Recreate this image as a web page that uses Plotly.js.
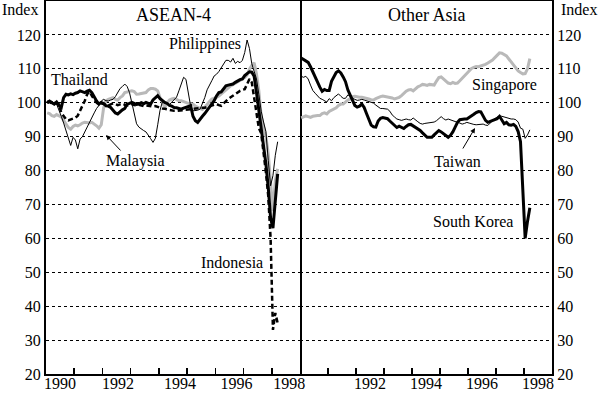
<!DOCTYPE html>
<html>
<head>
<meta charset="utf-8">
<script src="https://cdn.plot.ly/plotly-3.0.1.min.js"></script>
<style>
html,body{margin:0;padding:0;background:#fff;}
#chart{width:600px;height:393px;}
</style>
</head>
<body>
<div id="chart"></div>
<script>
// Monthly indices, Jan 1990 onward
const startYear = 1990;
const yearTicks = [1991, 1992, 1993, 1994, 1995, 1996, 1997, 1998];
const leftLabels = ['1990', '1992', '1994', '1996', '1998'];
const leftLabelPos = [1990.5, 1992.55, 1994.75, 1996.75, 1998.62];
const rightLabels = ['1992', '1994', '1996', '1998'];
const rightLabelPos = [1992.5, 1994.5, 1996.5, 1998.5];
const yTicks = [20, 30, 40, 50, 60, 70, 80, 90, 100, 110, 120];

const thailand = [100,100.5,100,99.6,100.2,99.2,98.6,101.5,102.5,102.3,
  102.6,102.4,102.8,103,103.5,103.3,103,103.4,103.7,103,
  101.5,100.5,99.6,100.1,99.8,99.1,99,98.6,97.8,97,
  96.7,97.4,97.9,98.3,99.6,99.8,100.1,99.8,99.5,99.6,
  100,99.7,100.1,99.8,99.6,100.8,101.6,102.1,101.2,100.6,
  100.1,99.8,99.2,99,98.6,98.5,98.2,98.1,98.4,98.6,
  98.8,99.1,96,94.7,94.2,95.2,96,96.8,97.8,98.6,
  99.5,100.6,102,103,103.2,104,105,105.2,105.3,105.5,
  106,106.5,106.8,107,108,108.6,109.1,109,107.8,103,
  97.5,93,88,82,75,66,63,72,79];

const indonesia = [100,100.3,99.8,100,99.8,99.5,97,96,95.2,94.8,
  95,95.2,95.6,96.2,97.6,99,100.6,102.5,103.3,102,
  101,100,99.5,99.8,99.6,99.4,99.2,99.5,99.8,99.6,
  99.3,99.5,99.7,99.4,99.2,99.5,99.6,99.3,99.2,99.4,
  99.3,99,99.2,99.1,98.8,98.9,99,98.7,98.5,98.3,
  98.2,98,97.8,97.7,97.6,97.6,97.7,97.6,97.7,97.8,
  98,98.1,98.3,98.4,98.3,98.5,98.5,98.5,98.7,98.9,
  99,99.2,99.6,99.3,99.1,99.8,100.6,101.1,101.6,102.1,
  102.6,103,103.5,103.8,104,105.5,107,106,101.5,96,
  92.5,91,85.5,79.5,72.5,60,33,38,35];

const philippines = [100.6,100,100.5,99.8,99.6,98,96,94,92,89.8,
  87.4,89.8,89,86.4,89.3,90,91.5,93,94.5,96,
  97,98.3,99.2,100.5,101,100.6,100.5,100.8,101,101.8,
  103.2,104.2,104.8,105.5,104.8,103,100,97,93.8,92.8,
  92.2,91.8,91.4,90.5,89.4,88.3,89.5,93.5,97.8,100.3,
  100,99.6,99.4,100.2,100.9,101.6,103.5,105.8,107.5,106.9,
  103.5,99,97.6,97.6,97.8,98.1,99.8,101.5,103.8,105,
  106.5,107.9,108.4,109.2,110.3,111.4,112.5,112.5,112,113.1,
  111.6,112.2,111.8,112.5,114.8,118.5,116,111.5,109.5,107,
  102.5,97.5,94.3,91.5,83,75.5,78.5,84.5,88.5];

const malaysia = [97,96.8,96.2,96,96.5,96.2,95.8,94.8,93.7,92.7,
  92.2,93,93.4,93.2,93.5,94,94.2,94,94,94.2,
  93.8,93.2,92.5,93.5,98.5,100.6,101,101.3,101.5,101,
  100.8,101.5,102,103,103.2,103.3,103.5,103.3,102.5,102.6,
  102.7,103,103,103.8,104.2,104.2,104,103.5,101.5,100.2,
  98.6,100,100.8,101.1,101.3,101,100.6,100.6,100.3,100.1,
  99.8,99.7,99.6,99,98.6,98.2,98,98.6,99.6,100.4,
  101.1,101.3,101.6,102,102.6,103.3,104,104.5,105,105.3,
  105.7,106,106.4,107,107.4,108.2,109.9,111,111.8,108.5,
  103.5,96,93,90,85,77,68,77,80.5];

const southKorea = [113.2,112.8,112.3,111.9,110.6,109,107.4,106,104.6,103.4,
  103.9,103.6,103.6,106.3,107.8,108.9,109.4,108.8,107.6,106.2,
  103.8,102.2,100.6,99.2,98.7,99,99.6,98.6,96.8,94.8,
  93.4,92.9,92.8,94.6,95.4,95.6,95.5,95.3,94.6,94,
  93.2,92.7,93.1,92.8,92.4,93,93.5,93.6,93.2,92.6,
  92.2,91.8,91.1,90.3,89.8,89.8,89.8,90.5,91.3,91.8,
  91.4,90.8,90.2,89.8,90.4,91.4,92.8,94.2,95,95.2,
  95.2,95.2,95.6,96.2,96.6,97.1,97.4,97.3,96.2,94.8,
  94.2,94.5,94.8,95,95.3,96,95,93.8,94.2,93.5,
  93.4,93.6,93,91.5,88.5,72,60,65,69];

const taiwan = [107.8,107.5,107.8,107,105.2,103.6,102.8,101.9,101.3,101,
  100.5,100.2,101.2,100.6,101.5,102.2,102.6,101.9,101.3,101.3,
  102.3,102,101.3,101,100.7,100.8,101,100.8,100.6,100.5,
  100.2,99.9,99.3,98.7,98.3,98.3,98.3,98.1,97.5,96.4,
  95.8,95.2,95,94.8,95,95.2,95,94.9,95.5,94.8,
  94.4,93.9,93.7,93.9,94,94,94,94.3,94.7,95.2,
  95.9,95.3,94.9,95.2,94.9,94.6,94.3,94.2,94,93.7,
  93.9,94.2,94,93.7,93.6,93.5,93.6,93.7,93.7,93.4,
  93.3,94,94.8,95.3,95.7,96.1,96,95.8,95.5,95.2,
  95.2,95.2,95,94.3,92.5,92.2,89.5,90.5,92];

const singapore = [95.5,95.9,96.1,95.9,95.7,96,96.2,96.2,96.2,96.8,
  97,96.7,97.4,97.8,98.2,98.5,99.2,99.6,99.6,100.3,
  100.8,101.1,101.8,101.9,101.7,101.6,101.6,101.5,101.3,101.1,
  100.9,100.8,101.2,101.6,101.8,102,101.9,101.7,101.6,101.4,
  101.1,101.3,101.6,102.1,102.8,103.4,103.8,103.9,103.5,104.1,
  104.7,105,105.4,105.3,105.1,105.4,105.4,105.2,106.4,107.4,
  107.6,107,106.2,105.8,105.6,106,105.7,105.8,106.5,107.2,
  107.8,108.5,109.5,110.1,110.4,110.7,110.6,110.8,111,111.3,
  111.7,112.1,112.6,113.3,114,114.7,114.6,114.2,113.8,112.9,
  112,111.3,110.3,109.4,108.9,108.5,108.6,110,113];

// monthly time positions (mid-month)
function months(n) { const a = []; for (let k = 0; k < n; k++) a.push(startYear + (k + 0.5) / 12); return a; }

const FONT = 'Liberation Serif, Times New Roman, serif';
const GREY = '#b9b9b9';

const traces = [
  {x: months(malaysia.length), y: malaysia, xaxis: 'x', yaxis: 'y', mode: 'lines', line: {color: GREY, width: 3}},
  {x: months(philippines.length), y: philippines, xaxis: 'x', yaxis: 'y', mode: 'lines', line: {color: '#000', width: 1}},
  {x: months(indonesia.length), y: indonesia, xaxis: 'x', yaxis: 'y', mode: 'lines', line: {color: '#000', width: 2.5, dash: '5px,3px'}},
  {x: months(thailand.length), y: thailand, xaxis: 'x', yaxis: 'y', mode: 'lines', line: {color: '#000', width: 3}},
  {x: months(singapore.length), y: singapore, xaxis: 'x2', yaxis: 'y2', mode: 'lines', line: {color: GREY, width: 3}},
  {x: months(taiwan.length), y: taiwan, xaxis: 'x2', yaxis: 'y2', mode: 'lines', line: {color: '#000', width: 1}},
  {x: months(southKorea.length), y: southKorea, xaxis: 'x2', yaxis: 'y2', mode: 'lines', line: {color: '#000', width: 3}}
];

// pixel helpers for placing text (plot area: x 46..552, y 1..374)
const L = 46, R = 552, T = 1, B = 374;
const px = x => (x - L) / (R - L);
const py = y => (B - y) / (B - T);
const split = (300 - L) / (R - L);

function xax(domain, vals, text, anchor) {
  return {
    domain: domain, range: [1990, 1999], anchor: anchor,
    tickmode: 'array', tickvals: vals, ticktext: text, ticks: '',
    ticklabelstandoff: -6,
    showgrid: false, zeroline: false,
    showline: true, linecolor: '#000', linewidth: 2, mirror: true,
    tickfont: {family: FONT, size: 16, color: '#000'},
    minor: {tickmode: 'array', tickvals: yearTicks, ticks: 'inside', ticklen: 6, tickwidth: 1.5, tickcolor: '#000', showgrid: false}
  };
}
function yax(side, anchor, mirror) {
  return {
    domain: [0, 1], range: [20, 130], anchor: anchor, side: side,
    tickmode: 'array', tickvals: yTicks, ticks: '',
    showgrid: true, gridcolor: '#000', gridwidth: 1, griddash: 'dot',
    zeroline: false, showline: true, linecolor: '#000', linewidth: 2, mirror: mirror,
    tickfont: {family: FONT, size: 16, color: '#000'}
  };
}

function label(text, x, y, anchor, size) {
  return {text: text, xref: 'paper', yref: 'paper', x: px(x), y: py(y), xanchor: anchor || 'left', yanchor: 'middle',
    showarrow: false, font: {family: FONT, size: size || 16, color: '#000'}};
}
function arrow(hx, hy, tx, ty) {
  return {text: '', xref: 'paper', yref: 'paper', x: px(hx), y: py(hy), ax: tx - hx, ay: ty - hy,
    showarrow: true, arrowhead: 2, arrowsize: 1, arrowwidth: 1, arrowcolor: '#000'};
}

const annotations = [
  label('ASEAN-4', 173, 15, 'center', 18),
  label('Other Asia', 426, 15, 'center', 18),
  label('Index', 20, 9, 'center'),
  label('Index', 579, 9, 'center'),
  label('Thailand', 49, 79),
  label('Philippines', 167, 44),
  label('Malaysia', 104, 161),
  label('Indonesia', 199, 262),
  label('Singapore', 470, 85),
  label('Taiwan', 432, 162),
  label('South Korea', 431, 222),
  arrow(106, 135, 122, 152),
  arrow(475, 128, 462, 150)
];

const layout = {
  width: 600, height: 393,
  margin: {l: L, r: 600 - R, t: T, b: 393 - B, pad: 0},
  paper_bgcolor: '#fff', plot_bgcolor: '#fff',
  showlegend: false,
  font: {family: FONT, size: 16, color: '#000'},
  xaxis: xax([0, split], leftLabelPos, leftLabels, 'y'),
  yaxis: yax('left', 'x', true),
  xaxis2: xax([split, 1], rightLabelPos, rightLabels, 'y2'),
  yaxis2: yax('right', 'x2', false),
  annotations: annotations
};

Plotly.newPlot('chart', traces, layout, {staticPlot: true, displayModeBar: false});
</script>
</body>
</html>
